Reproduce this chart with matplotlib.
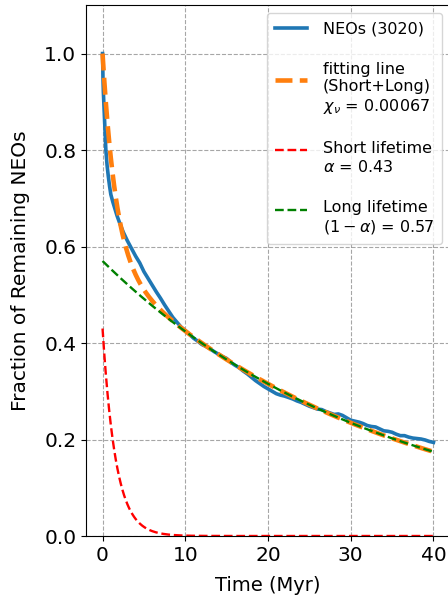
import numpy as np
import matplotlib
matplotlib.use("Agg")
import matplotlib.pyplot as plt

time_obs = [0, 0.05, 0.1, 0.2, 0.3, 0.4, 0.55, 0.7, 0.85, 1.0, 1.25, 1.5, 1.75, 2.0, 2.5, 3.0, 3.5,
            4.0, 4.5, 5.0, 5.5, 6.0, 6.5, 7.0, 7.5, 8.0, 8.5, 9.0, 9.5, 10, 10.5, 11, 11.5, 12,
            12.5, 13, 13.5, 14, 14.5, 15, 15.5, 16, 16.5, 17, 17.5, 18, 18.5, 19, 19.5, 20,
            20.5, 21, 21.5, 22, 22.5, 23, 23.5, 24, 24.5, 25, 25.5, 26, 26.5, 27, 27.5, 28,
            28.5, 29, 29.5, 30, 30.5, 31, 31.5, 32, 32.5, 33, 33.5, 34, 34.5, 35, 35.5, 36,
            36.5, 37, 37.5, 38, 38.5, 39, 39.5, 40]
frac_obs = [1.0, 0.95, 0.92, 0.88, 0.84, 0.80, 0.768, 0.745, 0.725, 0.708, 0.692, 0.678, 0.664,
            0.652, 0.630, 0.612, 0.596, 0.580, 0.566, 0.548, 0.534, 0.520, 0.506, 0.493, 0.479,
            0.466, 0.453, 0.443, 0.433, 0.426, 0.418, 0.410, 0.404, 0.397, 0.393, 0.388, 0.382,
            0.377, 0.372, 0.368, 0.360, 0.354, 0.349, 0.342, 0.336, 0.329, 0.322, 0.316, 0.310,
            0.305, 0.300, 0.295, 0.292, 0.290, 0.287, 0.284, 0.280, 0.277, 0.273, 0.269, 0.266,
            0.263, 0.262, 0.258, 0.255, 0.252, 0.253, 0.250, 0.245, 0.240, 0.238, 0.236, 0.233,
            0.229, 0.227, 0.226, 0.222, 0.218, 0.217, 0.215, 0.211, 0.208, 0.208, 0.205, 0.203,
            0.202, 0.201, 0.199, 0.196, 0.194]

# Fit parameters
alpha = 0.43
tau_short = 1.6
tau_long = 33.8
chi_nu = 0.00067
n_neos = 3020

t = np.linspace(0, 40, 400)
short = alpha * np.exp(-t / tau_short)
long_ = (1 - alpha) * np.exp(-t / tau_long)
fit = short + long_

fig = plt.figure(figsize=(4.48, 6.04), dpi=100)
ax = fig.add_axes([86 / 448, 68 / 604, (450 - 86) / 448, (536 - 5.3) / 604])

ax.plot(time_obs, frac_obs, color='#1f77b4', lw=2.6, label=f'NEOs ({n_neos})')
ax.plot(t, fit, color='#ff7f0e', lw=3.3, ls='--',
        label='\nfitting line\n(Short+Long)\n' + r'$\chi_\nu$' + f' = {chi_nu}')
ax.plot(t, short, color='red', lw=1.7, ls='--',
        label='\nShort lifetime\n' + r'$\alpha$' + f' = {alpha}')
ax.plot(t, long_, color='green', lw=1.7, ls='--',
        label='\nLong lifetime\n' + r'$(1-\alpha)$' + f' = {1 - alpha:.2f}')

ax.set_xlim(-2, 42)
ax.set_ylim(0, 1.1)
ax.set_xticks([0, 10, 20, 30, 40])
ax.set_yticks([0.0, 0.2, 0.4, 0.6, 0.8, 1.0])
ax.tick_params(labelsize=14.5)
ax.set_xlabel('Time (Myr)', fontsize=14, labelpad=8)
ax.set_ylabel('Fraction of Remaining NEOs', fontsize=14.5, labelpad=10)
ax.grid(True, ls='--', color='gray', alpha=0.7)
ax.legend(loc='upper right', fontsize=11.5, handletextpad=1.0, borderpad=0.5)

fig.savefig('out.png', dpi=100)
